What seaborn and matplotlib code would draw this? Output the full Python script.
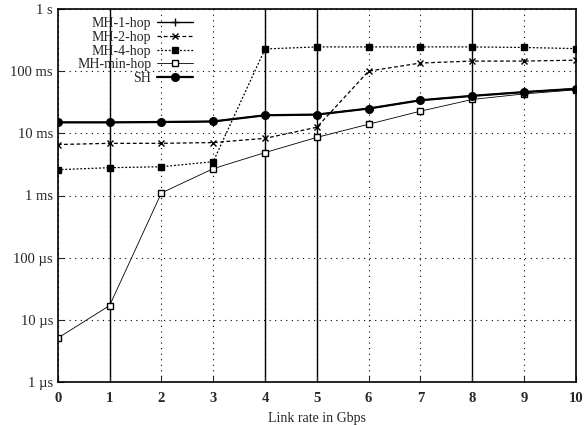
import numpy as np
import pandas as pd
import matplotlib
matplotlib.use("Agg")
import matplotlib.pyplot as plt
import seaborn as sns

# link rate in Gbps
rates = [0, 1, 2, 3, 4, 5, 6, 7, 8, 9, 10]

# delays in seconds
mh_1_hop = [15e-3, 15e-3, 15e-3, 15.5e-3, 19.5e-3, 20e-3, 25e-3, 34e-3, 40e-3, 46e-3, 52e-3]
mh_2_hop = [6.6e-3, 6.9e-3, 6.9e-3, 7.1e-3, 8.3e-3, 12.5e-3, 100e-3, 135e-3, 145e-3, 145e-3, 150e-3]
mh_4_hop = [2.6e-3, 2.8e-3, 2.9e-3, 3.5e-3, 227e-3, 245e-3, 245e-3, 245e-3, 245e-3, 240e-3, 230e-3]
mh_min_hop = [5.1e-6, 17e-6, 1.1e-3, 2.7e-3, 4.9e-3, 8.6e-3, 14e-3, 22.7e-3, 35e-3, 43e-3, 50e-3]
sh = [15e-3, 15e-3, 15.2e-3, 15.5e-3, 19.5e-3, 20e-3, 25e-3, 34e-3, 40e-3, 46e-3, 52e-3]

series_names = ["MH-1-hop", "MH-2-hop", "MH-4-hop", "MH-min-hop", "SH"]
y_ticks = [1e-6, 1e-5, 1e-4, 1e-3, 1e-2, 1e-1, 1]
y_tick_labels = ["1 \u00b5s", "10 \u00b5s", "100 \u00b5s", "1 ms", "10 ms", "100 ms", "1 s"]
solid_grid_x = [1, 4, 5, 8]

sns.set_style("ticks")
plt.rcParams['font.family'] = ['Liberation Serif', 'DejaVu Serif']

fig = plt.figure(figsize=(5.84, 4.25), dpi=100)
ax = fig.add_axes([0.099, 0.101, 0.887, 0.878])

styles = {
    "MH-1-hop": dict(marker="+", linestyle="-", linewidth=1.0, markersize=6, markerfacecolor="black"),
    "MH-2-hop": dict(marker="x", linestyle=(0, (3, 2)), linewidth=0.9, markersize=5, markerfacecolor="black"),
    "MH-4-hop": dict(marker="s", linestyle=(0, (1.5, 1.5)), linewidth=0.9, markersize=4.5, markerfacecolor="black"),
    "MH-min-hop": dict(marker="s", linestyle="-", linewidth=0.6, markersize=5, markerfacecolor="white"),
    "SH": dict(marker="o", linestyle="-", linewidth=1.6, markersize=5.5, markerfacecolor="black"),
}
values = {
    "MH-1-hop": mh_1_hop,
    "MH-2-hop": mh_2_hop,
    "MH-4-hop": mh_4_hop,
    "MH-min-hop": mh_min_hop,
    "SH": sh,
}

for name in series_names:
    df = pd.DataFrame({"rate": rates, "delay": values[name]})
    sns.lineplot(data=df, x="rate", y="delay", ax=ax, color="black",
                 markeredgecolor="black", markeredgewidth=1.0, label=name,
                 **styles[name])

ax.set_yscale("log")
ax.set_xlim(0, 10)
ax.set_ylim(1e-6, 1)
ax.set_xticks(rates)
ax.set_xticklabels([str(r) for r in rates], fontsize=10.5, fontweight="bold")
ax.set_yticks(y_ticks)
ax.set_yticklabels(y_tick_labels, fontsize=10.5)
ax.yaxis.set_minor_locator(matplotlib.ticker.NullLocator())
ax.tick_params(direction="in", length=4, width=0.8)
ax.tick_params(axis="x", pad=7)

ax.grid(True, which="major", color="black", linestyle=(0, (1, 4)), linewidth=0.8)
for xv in solid_grid_x:
    ax.axvline(xv, color="black", linewidth=1.0, zorder=0.5)

for s in ax.spines.values():
    s.set_linewidth(1.2)
    s.set_color("black")

ax.set_xlabel("Link rate in Gbps", fontsize=10, labelpad=5)
ax.set_ylabel("")

leg = ax.legend(loc="upper right", bbox_to_anchor=(0.277, 1.0), frameon=False,
                markerfirst=False, fontsize=10, handlelength=2.6,
                labelspacing=0.05, handletextpad=0.4, borderaxespad=0.2)
# right-align the label column like the gnuplot key
for col in leg._legend_handle_box.get_children():
    col.align = "right"

fig.savefig("out.png", dpi=100)
